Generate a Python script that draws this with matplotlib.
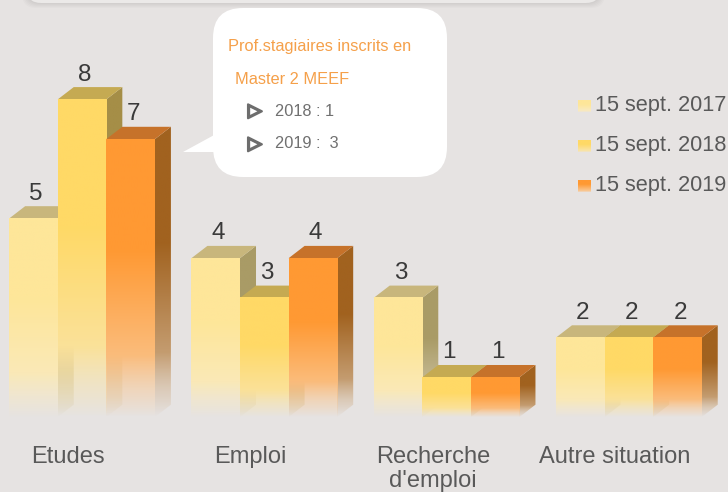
import numpy as np
import matplotlib.pyplot as plt
import matplotlib.patheffects as pe
from matplotlib.patches import Polygon, FancyBboxPatch
from matplotlib.transforms import IdentityTransform
from matplotlib.colors import to_rgb

plt.rcParams['font.family'] = ['Liberation Sans', 'DejaVu Sans']

# data
categories = ['Etudes', 'Emploi', "Recherche\nd'emploi", 'Autre situation']
series = ['15 sept. 2017', '15 sept. 2018', '15 sept. 2019']
v2017 = [5, 4, 3, 2]
v2018 = [8, 3, 1, 2]
v2019 = [7, 4, 1, 2]
values = [v2017, v2018, v2019]

front_colors = ['#fee699', '#ffd966', '#ff9933']
top_colors = ['#c8b67c', '#c5aa52', '#c6722a']
side_colors = ['#a99b66', '#a58e47', '#a1621f']

bg = '#e6e3e2'
W, H = 728, 492


def gradient(color, n=256):
    # solid at the top, paler then transparent toward the bottom
    t = np.linspace(0, 1, n)[:, None]
    rgb = np.array(to_rgb(color))
    w = np.clip((0.6 - t) / 0.5, 0, 1) * 0.55
    col = rgb * (1 - w) + np.array([0.96, 0.93, 0.88]) * w
    a = np.clip(t / 0.22, 0, 1) ** 0.9
    return np.concatenate([col, a], axis=1)[:, None, :]


fig = plt.figure(figsize=(W / 100, H / 100), dpi=100)
fig.patch.set_facecolor(bg)
ax = fig.add_axes([0, 75 / H, 1, 397 / H])
ax.set_facecolor('none')

bw = 0.2666   # bar width (data units)
dx = 0.0878   # depth offset x
dy = 0.31     # depth offset y

z = 2
for i in range(len(categories)):
    for j in range(len(series)):
        h = values[j][i]
        x0 = i - 1.5 * bw + j * bw
        x1 = x0 + bw
        # side face
        side = Polygon([(x1, 0), (x1 + dx, dy), (x1 + dx, h + dy), (x1, h)],
                       closed=True, fc='none', ec='none', zorder=z)
        ax.add_patch(side)
        im = ax.imshow(gradient(side_colors[j]), extent=[x1, x1 + dx, 0, h + dy],
                       origin='lower', aspect='auto', interpolation='bilinear', zorder=z)
        im.set_clip_path(side)
        # top face
        ax.add_patch(Polygon([(x0, h), (x1, h), (x1 + dx, h + dy), (x0 + dx, h + dy)],
                             closed=True, fc=top_colors[j], ec='none', zorder=z + 1))
        # front face
        ax.imshow(gradient(front_colors[j]), extent=[x0, x1, 0, h],
                  origin='lower', aspect='auto', interpolation='bilinear', zorder=z + 2)
        ax.text(x0 + bw / 2 + 0.015, h + dy + 0.04, str(h), ha='center', va='bottom',
                fontsize=17.5, color='#3a3a3a', zorder=20)
        z += 3

ax.set_xlim(-0.45, 3.544)
ax.set_ylim(0, 10)
ax.set_xticks([i - 0.075 for i in range(len(categories))], categories)
ax.set_yticks([])
ax.tick_params(axis='x', length=0, pad=21, labelsize=17, labelcolor='#595959')
for tl in ax.get_xticklabels():
    tl.set_linespacing(1.1)
for s in ax.spines.values():
    s.set_visible(False)

# legend
for k, name in enumerate(series):
    yc = 106 + 40 * k
    lax = fig.add_axes([578 / W, (H - yc - 6.5) / H, 13 / W, 13 / H])
    g = gradient(front_colors[k])
    g[:, :, 3] = np.clip(g[:, :, 3] * 3, 0, 1)
    lax.imshow(g, origin='lower', aspect='auto', interpolation='bilinear')
    lax.axis('off')
    fig.text(595 / W, (H - yc) / H, name, ha='left', va='center',
             fontsize=15.7, color='#595959')

idt = IdentityTransform()

# panel edge at the very top
for k in range(6):
    fig.add_artist(FancyBboxPatch((27 - k, H - 3 - k), 573 + 2 * k, 40,
                                  boxstyle='round,pad=0,rounding_size=14',
                                  transform=idt, fc='black', ec='none', alpha=0.015))
fig.add_artist(FancyBboxPatch((27, H - 3), 573, 40, boxstyle='round,pad=0,rounding_size=14',
                              transform=idt, fc='#ebe9e8', ec='none'))

# callout bubble
fig.add_artist(FancyBboxPatch((213, H - 177), 234, 169,
                              boxstyle='round,pad=0,rounding_size=30',
                              transform=idt, fc='white', ec='none', zorder=30))
fig.add_artist(Polygon([(216, H - 134), (183, H - 152), (216, H - 152)], closed=True,
                       transform=idt, fc='white', ec='none', zorder=30))

fig.text(228, H - 47, 'Prof.stagiaires inscrits en', transform=idt, ha='left', va='center',
         fontsize=11.8, color='#f5a04a', zorder=31)
fig.text(235, H - 80, 'Master 2 MEEF', transform=idt, ha='left', va='center',
         fontsize=11.8, color='#f5a04a', zorder=31)
for r, line in enumerate(['2018 : 1', '2019 :  3']):
    yc = H - 111 - 33 * r
    fig.text(248, yc, '\u25b7', transform=idt, ha='left', va='center', fontsize=13,
             color='#6d6d6d', family=['DejaVu Sans'], zorder=31,
             path_effects=[pe.withStroke(linewidth=1.6, foreground='#6d6d6d')])
    fig.text(275, yc, line, transform=idt, ha='left', va='center',
             fontsize=11.8, color='#707070', zorder=31)

fig.savefig('out.png', dpi=100, facecolor=bg)
